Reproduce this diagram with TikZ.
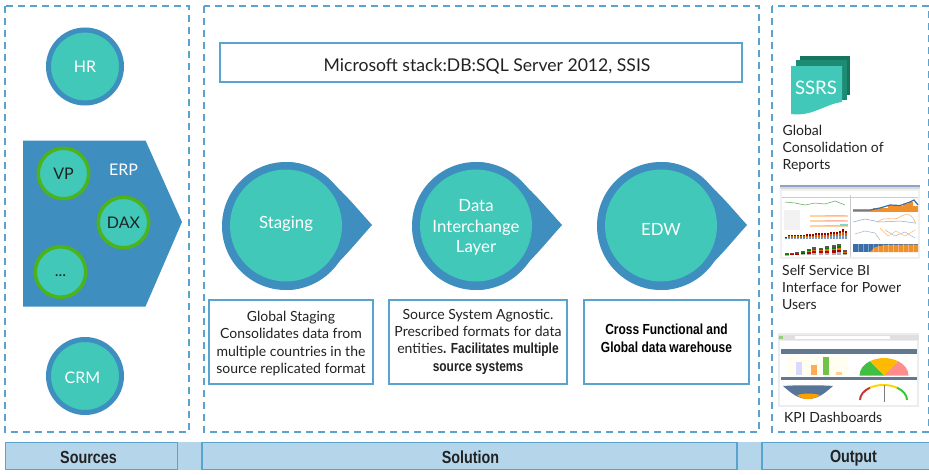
\documentclass[tikz,border=0pt]{standalone}
\usepackage{fontspec}
\setmainfont{Lato}
\newfontfamily\barfont[FakeStretch=0.82]{Liberation Sans Bold}
\usetikzlibrary{calc}
\definecolor{myblue}{HTML}{3E8EBF}
\definecolor{myline}{HTML}{5BA3CF}
\definecolor{myteal}{HTML}{41C8B8}
\definecolor{mygreen}{HTML}{4DB31A}
\definecolor{mybar}{HTML}{B5D6EA}
\definecolor{myink}{HTML}{222222}
\definecolor{pagea}{HTML}{17755F}
\definecolor{pageb}{HTML}{1E8C72}
\definecolor{shotnavy}{HTML}{3B6EA8}
\definecolor{shotorange}{HTML}{F0902A}
\definecolor{shotbar}{HTML}{8FA3C4}
\tikzset{
  x=1pt,y=-1pt,
  zone/.style={draw=myline,line width=1.3pt,dash pattern=on 7pt off 5pt},
  barbox/.style={draw=myline,fill=mybar,line width=1.6pt},
  infobox/.style={draw=myline,line width=1.3pt,fill=white},
  lbl/.style={text=myink,font=\fontsize{14}{17.3}\selectfont,align=center,inner sep=0pt},
  boldlbl/.style={text=black,font=\fontsize{14.6}{18}\barfont,align=center,inner sep=0pt},
  barlbl/.style={text=myink,font=\fontsize{17.5}{18}\barfont,inner sep=0pt},
  whitelbl/.style={text=white,font=\fontsize{16.8}{20.7}\selectfont,align=center,inner sep=0pt},
  darklbl/.style={text=myink,font=\fontsize{16}{18}\selectfont,inner sep=0pt},
  outlbl/.style={text=myink,font=\fontsize{14}{17.4}\selectfont,align=left,inner sep=0pt,anchor=north west},
  srcdisc/.style={circle,draw=myblue,fill=myteal,line width=5pt,minimum size=73pt,inner sep=0pt},
  erpdisc/.style={circle,draw=mygreen,fill=myteal,line width=3.5pt,minimum size=50.5pt,inner sep=0pt},
}
\newcommand{\dropshape}[5]{%
  \fill[myblue] (#1,162) .. controls (#1+34,162) and (#1+59,195) .. (#1+86,225)
     .. controls (#1+59,255) and (#1+34,290) .. (#1,290) -- cycle;
  \fill[myblue] (#1,226) circle[radius=64pt];
  \node[circle,fill=myteal,minimum size=112pt,inner sep=0pt] (#2) at (#1,225.5) {};
  \node[whitelbl] (#3) at (#1,#5) {#4};
}
\begin{document}
\begin{tikzpicture}
\useasboundingbox (0,0) rectangle (929,474);
\fill[white] (0,0) rectangle (929,474);

% dashed zones
\draw[zone] (5,6) rectangle (189,432);
\draw[zone] (204,6) rectangle (759,432);
\draw[zone] (772,6) rectangle (928.3,432);

% bottom bars
\fill[mybar] (5,442) rectangle (929,470);
\node[barbox,minimum width=172pt,minimum height=27pt,inner sep=0pt] (srcbar) at (91.5,456) {};
\node[barbox,minimum width=535pt,minimum height=27pt,inner sep=0pt] (solbar) at (469.5,456) {};
\draw[myline,line width=1.6pt] (929,442.5) -- (762,442.5) -- (762,469.5) -- (929,469.5);
\node[barlbl] (srctxt) at (88.5,457.5) {Sources};
\node[barlbl] (soltxt) at (470.5,457) {Solution};
\node[barlbl] (outtxt) at (853.5,458) {Output};

% sources
\node[srcdisc] (hr) at (85,66.5) {};
\node[whitelbl,font=\fontsize{16}{18}\selectfont] (hrt) at (hr) {HR};
\node[srcdisc] (crm) at (85,376) {};
\node[whitelbl,font=\fontsize{16}{18}\selectfont] (crmt) at (82.5,378) {CRM};

% ERP
\fill[myblue] (23,140.5) -- (145.5,140.5) -- (182,222) -- (145.5,306.5) -- (23,306.5) -- cycle;
\node[whitelbl,font=\fontsize{16}{18}\selectfont] (erp) at (123.5,170) {ERP};
\node[erpdisc] (vp) at (63.5,173.5) {};
\node[darklbl] (vpt) at (vp) {VP};
\node[erpdisc] (dax) at (123.5,222.5) {};
\node[darklbl] (daxt) at (dax) {DAX};
\node[erpdisc] (etc) at (60.5,272) {};
\node[darklbl] (etct) at (60.5,276) {...};

% stack
\node[infobox,minimum width=522pt,minimum height=39pt,inner sep=0pt] (stack) at (481,62.5) {};
\node[text=myink,font=\fontsize{17.6}{20}\selectfont,inner sep=0pt] (stacktxt) at (487,66) {Microsoft stack:DB:SQL Server 2012, SSIS};

% drops
\dropshape{286}{stagec}{staget}{Staging}{224}
\dropshape{476}{dilc}{dilt}{Data\\Interchange\\Layer}{227.5}
\dropshape{661}{edwc}{edwt}{EDW}{229}

% description boxes
\node[infobox,minimum width=164pt,minimum height=84pt,inner sep=0pt] (b1) at (291,342) {};
\node[lbl] (b1t) at (291,343.5) {Global Staging\\Consolidates data from\\multiple countries in the\\source replicated format};
\node[infobox,minimum width=178pt,minimum height=84pt,inner sep=0pt] (b2) at (478,342) {};
\node[lbl] (b2t) at (478,341.5) {Source System Agnostic.\\Prescribed formats for data\\entities{\fontsize{14.6}{17.3}\barfont. Facilitates multiple}\\{\fontsize{14.6}{17.3}\barfont source systems}};
\node[infobox,minimum width=165pt,minimum height=84pt,inner sep=0pt] (b3) at (666.5,342) {};
\node[boldlbl] (b3t) at (666.5,338.5) {Cross Functional and\\Global data warehouse};

% SSRS pages
\fill[pagea] (800,56) -- (850,56) -- (850,95) -- (800,95) -- cycle;
\fill[pageb] (796,60) -- (847,60) -- (847,100) -- (796,100) -- cycle;
\fill[myteal] (791,66) -- (842,66) -- (842,102) .. controls (825,104) and (812,117) .. (791,114) -- cycle;
\node[whitelbl,font=\fontsize{18.6}{20}\selectfont] (ssrs) at (816,87.5) {SSRS};
\node[outlbl] (o1) at (782.5,124.5) {Global\\Consolidation of\\Reports};
\node[outlbl] (o2) at (782,264.5) {Self Service BI\\Interface for Power\\Users};
\node[outlbl] (o3) at (784,412) {KPI Dashboards};

% screenshot 1
\begin{scope}
\fill[gray!12] (780,185) rectangle (920,259);
\fill[white] (782,191) rectangle (918,257);
\fill[shotbar] (780,185) rectangle (920,186.5);
\fill[gray!30] (780,187) rectangle (920,189);
\draw[gray!40,line width=.4pt] (850,195) -- (850,257) (782,197) -- (918,197);
\draw[green!35!gray,line width=.5pt] (785,202) -- (795,203) -- (805,205) -- (815,203) -- (825,204) -- (835,201) -- (845,205);
\foreach \y in {215,220,225}{\fill[orange!35] (810,\y) rectangle (848,\y+1.5);\fill[red!30] (825,\y) rectangle (845,\y+1);}
\fill[gray!10] (784,210) rectangle (800,230);
\fill[myteal!70] (840,224) rectangle (848,226);
\foreach \xx/\hh in {785/2,788/3,791/3,794/3,797/3,800/3,803/3,806/4,809/4,812/4,815/5,818/5,821/5,824/5,827/5,830/6,833/6,836/6,839/7,842/9,845/7}{
  \fill[shotnavy!70] (\xx,238.7) rectangle (\xx+2.4,238.7-\hh*.4);
  \fill[orange!80!black] (\xx,238.7-\hh*.4) rectangle (\xx+2.4,238.7-\hh*.8);
  \fill[red!60!black] (\xx,238.7-\hh*.8) rectangle (\xx+2.4,238.7-\hh*1.1);
}
\foreach \xx/\hh in {785/1.5,790/2,795/2.5,801/3.5,807/5,812/6.5,819/6,825/7.5,832/8,837/9,843/4}{
  \fill[gray!60] (\xx,255) rectangle (\xx+4.4,255-\hh*.3);
  \fill[red!70!black] (\xx,255-\hh*.3) rectangle (\xx+4.4,255-\hh*.6);
  \fill[orange!90!black] (\xx,255-\hh*.6) rectangle (\xx+4.4,255-\hh*.8);
  \fill[green!50!black] (\xx,255-\hh*.8) rectangle (\xx+4.4,255-\hh*1);
  \fill[gray!70!black] (\xx,255-\hh*1) rectangle (\xx+4.4,255-\hh*1.2);
}
\foreach \xx/\hh in {853/1,858/1,863/1,868/1,873/2,878/2,883/2,888/3.5,893/3,898/3,903/4,908/5,913/3}{
  \fill[shotorange] (\xx,212) rectangle (\xx+5,212-\hh*2);
}
\draw[shotnavy,line width=1.2pt] (853,210) -- (870,210) -- (880,208) -- (890,205) -- (900,205.5) -- (910,202) -- (914,200) -- (918,205);
\draw[shotnavy!60,line width=.5pt] (853,222) -- (865,219) -- (880,222) -- (900,221) -- (915,223);
\draw[orange!60,line width=.6pt] (878,222) .. controls (885,215) and (892,222) .. (900,217) .. controls (908,212) and (912,214) .. (916,224);
\draw[shotnavy!50,line width=.5pt] (855,234) -- (865,231) -- (875,233) -- (880,240) (885,230) -- (895,236) -- (905,232) -- (915,238);
\draw[orange!55,line width=.5pt] (880,228) -- (888,236) -- (896,231) -- (905,236) -- (915,230);
\fill[shotnavy] (853,243.5) rectangle (918,252);
\fill[shotorange] (870,252) -- (875,247) -- (885,245) -- (918,244.5) -- (918,252) -- cycle;
\foreach \xx in {858,863,868,873,878,883,888,893,898,903,908,913}{\draw[white,opacity=.35,line width=.3pt] (\xx,243.5) -- (\xx,252);}
\end{scope}

% screenshot 2
\begin{scope}
\fill[gray!15] (778,333) rectangle (919,407);
\fill[gray!25] (778,335) rectangle (919,340);
\fill[mygreen!60] (779,336) rectangle (783,339);
\fill[white] (795,336) rectangle (890,339);
\fill[white] (780,341) rectangle (917,405);
\fill[shotnavy!45!gray] (781,349) rectangle (917,354);
\fill[yellow!6] (787,356) rectangle (848,376);
\fill[blue!15] (796,362) rectangle (802,375);
\fill[orange!65] (811,365) rectangle (817,375);
\fill[mygreen!80] (823,356.5) rectangle (829,375);
\fill[orange!40] (836,372) rectangle (842,375);
\fill[shotnavy!40!gray] (781,377) rectangle (917,379.5);
% gauge 1
\fill[green!50!gray] (859.5,375.5) arc[start angle=180,end angle=125,x radius=24.5pt,y radius=17.5pt] -- (884,375.5) -- cycle;
\fill[red!45] (908.5,375.5) arc[start angle=0,end angle=55,x radius=24.5pt,y radius=17.5pt] -- (884,375.5) -- cycle;
\fill[orange!55!yellow] (870,361.2) arc[start angle=125,end angle=55,x radius=24.5pt,y radius=17.5pt] -- (884,375.5) -- cycle;
% bowl
\fill[shotnavy!60!gray] (783,386) .. controls (795,385) and (823,385) .. (833,386) .. controls (825,393) and (818,399) .. (808,399) .. controls (798,399) and (791,393) .. (783,386) -- cycle;
\fill[orange!75!yellow] (797,395) .. controls (805,393) and (813,393) .. (820,395) .. controls (816,398) and (812,399) .. (808,399) .. controls (804,399) and (800,398) .. (797,395) -- cycle;
% gauge 2
\draw[red!55!gray,line width=2pt] (860,400) arc[start angle=180,end angle=125,x radius=23.5pt,y radius=15pt];
\draw[yellow!75!orange,line width=2pt] (870,387.7) arc[start angle=125,end angle=55,x radius=23.5pt,y radius=15pt];
\draw[green!55!gray,line width=2pt] (897,387.7) arc[start angle=55,end angle=0,x radius=23.5pt,y radius=15pt];
\draw[gray,line width=.5pt] (884,385) -- (884,402);
\end{scope}
\end{tikzpicture}
\end{document}
